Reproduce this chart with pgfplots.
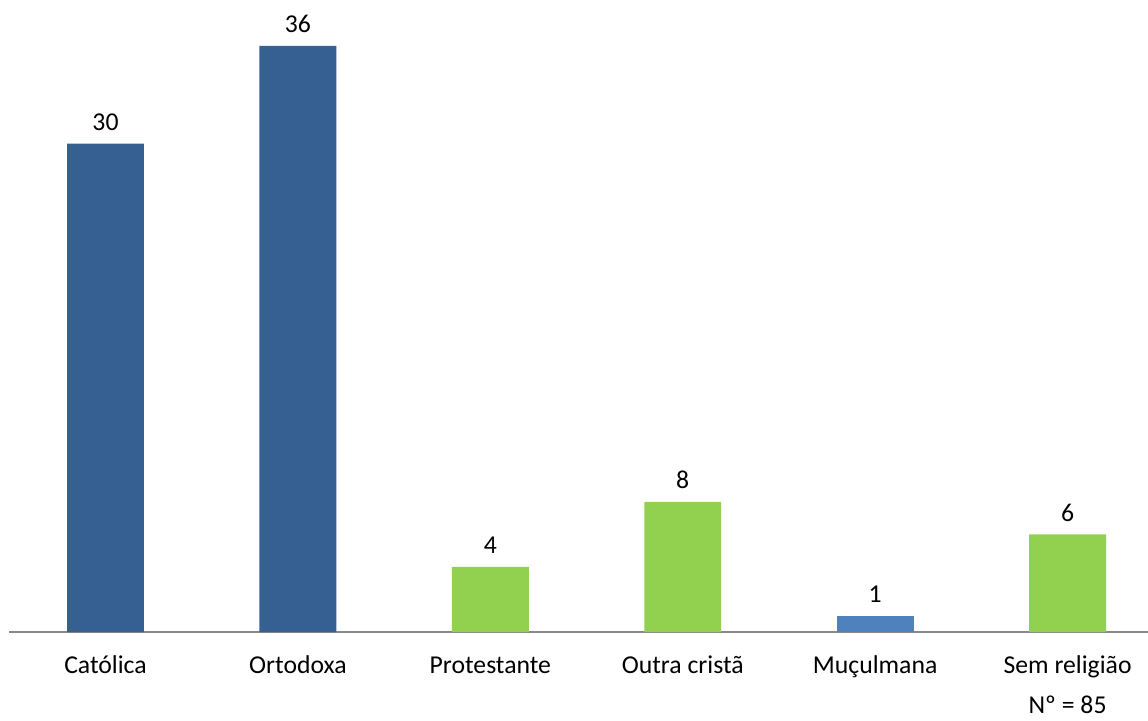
\documentclass[border=0pt]{standalone}
\usepackage{fontspec}
\setmainfont{Carlito}
\usepackage{pgfplots}
\pgfplotsset{compat=1.18}
\definecolor{dblue}{HTML}{376092}
\definecolor{lblue}{HTML}{4F81BD}
\definecolor{lgreen}{HTML}{92D050}
\definecolor{axgray}{HTML}{898989}
\begin{document}
\fontsize{12.85pt}{15pt}\selectfont
\begin{tikzpicture}
\useasboundingbox (0,0) rectangle (574pt,360pt);
\begin{axis}[
  at={(4.65pt,44pt)}, anchor=south west,
  scale only axis, width=569.35pt, height=316pt,
  xmin=-0.5, xmax=5.418, ymin=0, ymax=38.82,
  axis y line=none,
  axis x line*=bottom,
  x axis line style={draw=axgray, line width=0.75pt, -},
  xtick={0,...,5},
  xticklabels={Católica, Ortodoxa, Protestante, Outra cristã, Muçulmana, Sem religião},
  major tick length=0pt,
  xticklabel style={anchor=base, yshift=-20.75pt, inner sep=0pt, font=\fontsize{12.85pt}{15pt}\selectfont},
  /pgf/number format/assume math mode=true,
  ybar, bar width=0.4, bar shift=0pt,
  clip=false,
  nodes near coords,
  every node near coord/.append style={anchor=base, inner sep=0pt, yshift=6.5pt, font=\fontsize{12.85pt}{15pt}\selectfont, text=black},
]
\addplot[fill=dblue, draw=none] coordinates {(0,30) (1,36)};
\addplot[fill=lgreen, draw=none] coordinates {(2,4) (3,8) (5,6)};
\addplot[fill=lblue, draw=none] coordinates {(4,1)};
\node[anchor=base, inner sep=0pt] at (axis cs:5,0) [yshift=-40.5pt] {Nº = 85};
\end{axis}
\end{tikzpicture}
\end{document}
